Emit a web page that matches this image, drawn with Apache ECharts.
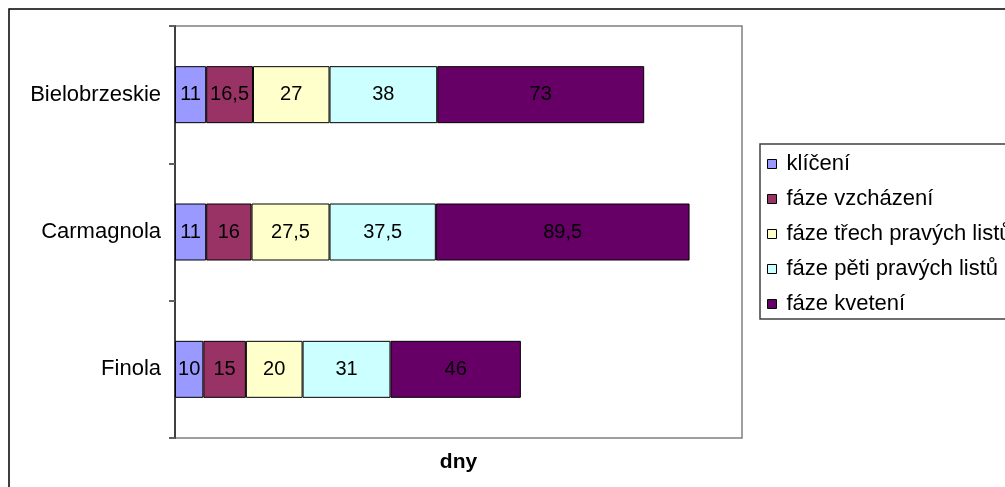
<!DOCTYPE html>
<html>
<head>
<meta charset="utf-8">
<script src="https://cdn.jsdelivr.net/npm/echarts@6/dist/echarts.min.js"></script>
<style>
  html, body { margin: 0; padding: 0; background: #fff; }
  #chart { width: 1005px; height: 487px; }
</style>
</head>
<body>
<div id="chart"></div>
<script>
// Odrůdy konopí a délka jednotlivých fází (dny)
const categories = ['Bielobrzeskie', 'Carmagnola', 'Finola'];
const phaseNames = ['klíčení', 'fáze vzcházení', 'fáze třech pravých listů', 'fáze pěti pravých listů', 'fáze kvetení'];
const kliceni = [11, 11, 10];
const vzchazeni = [16.5, 16, 15];
const triListy = [27, 27.5, 20];
const petListu = [38, 37.5, 31];
const kveteni = [73, 89.5, 46];
const phaseColors = ['#9999FF', '#993366', '#FFFFCC', '#CCFFFF', '#660066'];
const axisName = 'dny';

const phaseValues = [kliceni, vzchazeni, triListy, petListu, kveteni];
const FONT = 'Liberation Sans, Arial, sans-serif';

const chart = echarts.init(document.getElementById('chart'), null, { renderer: 'canvas' });

const series = phaseNames.map((name, i) => ({
  name: name,
  type: 'bar',
  stack: 'total',
  barWidth: 57,
  data: phaseValues[i],
  itemStyle: { color: phaseColors[i], borderColor: '#000', borderWidth: 1 },
  label: {
    show: true,
    position: 'inside',
    color: '#000',
    fontFamily: FONT,
    fontSize: 20,
    formatter: p => String(p.value).replace('.', ',')
  },
  emphasis: { disabled: true }
}));

chart.setOption({
  animation: false,
  backgroundColor: '#fff',
  grid: {
    left: 175, top: 26, width: 567, height: 412,
    show: true, borderColor: '#808080', borderWidth: 1.5,
    backgroundColor: 'transparent'
  },
  xAxis: {
    type: 'value', min: 0, max: 200,
    axisLabel: { show: false },
    axisTick: { show: false },
    axisLine: { show: false },
    splitLine: { show: false },
    name: axisName,
    nameLocation: 'middle',
    nameGap: 14,
    nameTextStyle: { fontFamily: FONT, fontSize: 21, fontWeight: 'bold', color: '#000' }
  },
  yAxis: {
    type: 'category',
    inverse: true,
    data: categories,
    axisLine: { show: true, lineStyle: { color: '#404040', width: 2 } },
    axisTick: { show: true, length: 6, lineStyle: { color: '#606060', width: 2 } },
    axisLabel: { fontFamily: FONT, fontSize: 22, color: '#000', margin: 14 }
  },
  legend: {
    orient: 'vertical',
    left: 760, top: 144,
    padding: [9, 60, 4, 7],
    itemGap: 13,
    itemWidth: 9, itemHeight: 9,
    icon: 'rect',
    borderColor: '#404040', borderWidth: 1.5,
    backgroundColor: '#fff',
    itemStyle: { borderColor: '#000', borderWidth: 1 },
    textStyle: { fontFamily: FONT, fontSize: 22, color: '#000', padding: [0, 0, 0, 5] },
    data: phaseNames
  },
  graphic: [{
    type: 'rect',
    shape: { x: 9, y: 9, width: 1200, height: 700 },
    style: { fill: 'none', stroke: '#000', lineWidth: 1.5 },
    silent: true
  }],
  series: series
});
</script>
</body>
</html>
